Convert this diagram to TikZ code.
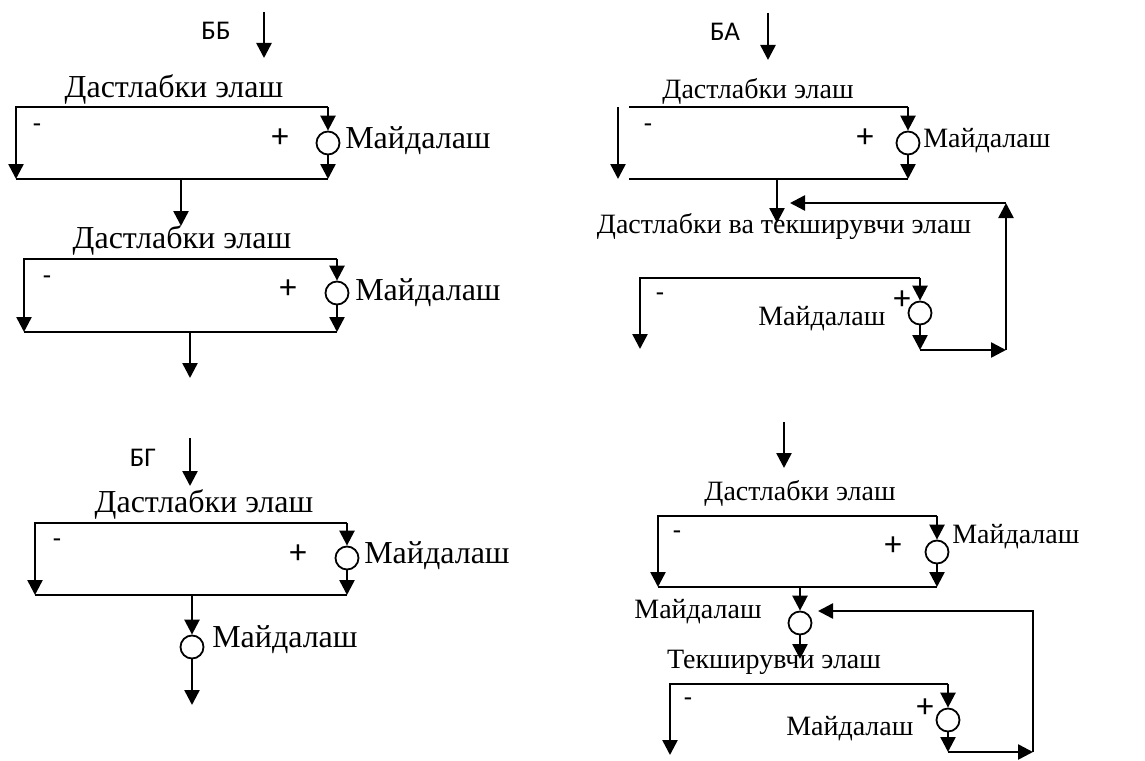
\documentclass[tikz,border=0pt]{standalone}
\usepackage{fontspec}
\setmainfont{Liberation Serif}
\newfontfamily\carlito{Carlito}
\usetikzlibrary{arrows.meta}
\tikzset{sep/.style = {circle,draw,line width=1.8pt,minimum size=23pt,inner sep=0pt,fill=white},
         flow/.style = {-{Triangle[length=15pt,width=15pt]}},
         big/.style = {font=\fontsize{32}{36}\selectfont,inner sep=0pt},
         small/.style = {font=\fontsize{28}{32}\selectfont,inner sep=0pt},
         sans/.style = {font=\carlito\fontsize{27}{30}\selectfont,inner sep=0pt},
         pm/.style = {font=\carlito\fontsize{34}{38}\selectfont,inner sep=0pt}}

\begin{document}
\begin{tikzpicture}[x=1pt,y=-1pt,line width=2.5pt,line join=miter]
                    \useasboundingbox (0,0) rectangle (1145,760);

                    \node [sans] (bb) at (216,31) {ББ};
                    \coordinate (bbin) at (264,12);
                    \coordinate (bbtop) at (264,58);
                    \node [big,anchor=base] (bbt1) at (174,97) {Дастлабки элаш};
                    \coordinate (bbtl1) at (16,107);
                    \coordinate (bbtr1) at (328,107);
                    \coordinate (bbbl1) at (16,179);
                    \coordinate (bbbr1) at (328,179);
                    \node [sep] (bbm1) at (328,143) {};
                    \node [big,anchor=base west] (bbmt1) at (344,148) {Майдалаш};
                    \node [sans] (bbn1) at (37,128) {-};
                    \node [pm] (bbp1) at (280,138) {+};
                    \coordinate (bbo1) at (181,179);
                    \coordinate (bbi2) at (181,226);
                    \node [big,anchor=base] (bbt2) at (182,248) {Дастлабки элаш};
                    \coordinate (bbtl2) at (24,259);
                    \coordinate (bbtr2) at (337,259);
                    \coordinate (bbbl2) at (24,332);
                    \coordinate (bbbr2) at (337,332);
                    \node [sep] (bbm2) at (337,293) {};
                    \node [big,anchor=base west] (bbmt2) at (354,300) {Майдалаш};
                    \node [sans] (bbn2) at (47,280) {-};
                    \node [pm] (bbp2) at (288,289) {+};
                    \coordinate (bbo2) at (190,332);
                    \coordinate (bbe2) at (190,378);

                    \draw [flow] (bbin) to (bbtop);
                    \draw [flow] (bbtr1) -- (bbtl1) -- (bbbl1);
                    \draw [flow] (bbtr1) -- (bbm1);
                    \draw [flow] (bbm1) -- (bbbr1);
                    \draw (bbbl1) -- (bbbr1);
                    \draw [flow] (bbo1) to (bbi2);
                    \draw [flow] (bbtr2) -- (bbtl2) -- (bbbl2);
                    \draw [flow] (bbtr2) -- (bbm2);
                    \draw [flow] (bbm2) -- (bbbr2);
                    \draw (bbbl2) -- (bbbr2);
                    \draw [flow] (bbo2) to (bbe2);

                    \node [sans] (ba) at (725,32) {БА};
                    \coordinate (bain) at (768,13);
                    \coordinate (batop) at (768,60);
                    \node [small,anchor=base] (bat1) at (758,98) {Дастлабки элаш};
                    \coordinate (batl1) at (629,107);
                    \coordinate (batr1) at (908,107);
                    \coordinate (babl1) at (629,179);
                    \coordinate (babr1) at (908,179);
                    \coordinate (bals) at (618,107);
                    \coordinate (bale) at (618,179);
                    \node [sep] (bam1) at (908,143) {};
                    \node [small,anchor=base west] (bamt1) at (922,147) {Майдалаш};
                    \node [sans] (ban1) at (648,128) {-};
                    \node [pm] (bap1) at (865,138) {+};
                    \coordinate (bao1) at (777,179);
                    \coordinate (bai2) at (777,223);
                    \node [small,anchor=base] (bat2) at (784,233) {Дастлабки ва текширувчи элаш};
                    \coordinate (batl2) at (640,278);
                    \coordinate (batr2) at (920,278);
                    \coordinate (babl2) at (640,349);
                    \coordinate (babr2) at (920,350);
                    \node [sep] (bam2) at (920,313) {};
                    \node [small,anchor=base west] (bamt2) at (757,325) {Майдалаш};
                    \node [sans] (ban2) at (660,297) {-};
                    \node [pm] (bap2) at (902,300) {+};
                    \coordinate (bafa) at (1006,350);
                    \coordinate (bafb) at (1006,203);
                    \coordinate (bafc) at (790,203);

                    \draw [flow] (bain) to (batop);
                    \draw (batl1) -- (batr1);
                    \draw [flow] (bals) to (bale);
                    \draw [flow] (batr1) -- (bam1);
                    \draw [flow] (bam1) -- (babr1);
                    \draw (babl1) -- (babr1);
                    \draw [flow] (bao1) to (bai2);
                    \draw [flow] (batr2) -- (batl2) -- (babl2);
                    \draw [flow] (batr2) -- (bam2);
                    \draw [flow] (bam2) -- (babr2);
                    \draw [flow] (babr2) -- (bafa);
                    \draw [flow] (bafa) -- (bafb);
                    \draw [flow] (bafb) -- (bafc);

                    \node [sans] (bg) at (143,458) {БГ};
                    \coordinate (bgin) at (190,438);
                    \coordinate (bgtop) at (190,486);
                    \node [big,anchor=base] (bgt1) at (204,512) {Дастлабки элаш};
                    \coordinate (bgtl) at (35,523);
                    \coordinate (bgtr) at (347,523);
                    \coordinate (bgbl) at (35,595);
                    \coordinate (bgbr) at (347,595);
                    \node [sep] (bgm1) at (347,558) {};
                    \node [big,anchor=base west] (bgmt1) at (363,563) {Майдалаш};
                    \node [sans] (bgn) at (57,543) {-};
                    \node [pm] (bgp) at (298,554) {+};
                    \coordinate (bgo) at (192,595);
                    \node [sep] (bgm2) at (192,647) {};
                    \node [big,anchor=base west] (bgmt2) at (211,647) {Майдалаш};
                    \coordinate (bge) at (192,705);

                    \draw [flow] (bgin) to (bgtop);
                    \draw [flow] (bgtr) -- (bgtl) -- (bgbl);
                    \draw [flow] (bgtr) -- (bgm1);
                    \draw [flow] (bgm1) -- (bgbr);
                    \draw (bgbl) -- (bgbr);
                    \draw [flow] (bgo) -- (bgm2);
                    \draw [flow] (bgm2) -- (bge);

                    \coordinate (krin) at (784,422);
                    \coordinate (krtop) at (784,468);
                    \node [small,anchor=base] (krt1) at (800,500) {Дастлабки элаш};
                    \coordinate (krtl1) at (658,516);
                    \coordinate (krtr1) at (937,516);
                    \coordinate (krbl1) at (658,587);
                    \coordinate (krbr1) at (937,587);
                    \node [sep] (krm1) at (937,552) {};
                    \node [small,anchor=base west] (krmt1) at (951,543) {Майдалаш};
                    \node [sans] (krn1) at (677,535) {-};
                    \node [pm] (krp1) at (893,546) {+};
                    \coordinate (kro1) at (800,587);
                    \node [sep] (krm2) at (800,623) {};
                    \node [small,anchor=base] (krmt2) at (698,618) {Майдалаш};
                    \coordinate (kri2) at (800,659);
                    \node [small,anchor=base] (krt2) at (774,668) {Текширувчи элаш};
                    \coordinate (krtl2) at (670,684);
                    \coordinate (krtr2) at (948,684);
                    \coordinate (krbl2) at (670,755);
                    \coordinate (krbr2) at (948,752);
                    \node [sep] (krm3) at (948,720) {};
                    \node [small,anchor=base west] (krmt3) at (785,735) {Майдалаш};
                    \node [sans] (krn2) at (688,702) {-};
                    \node [pm] (krp2) at (925,708) {+};
                    \coordinate (krfa) at (1033,752);
                    \coordinate (krfb) at (1033,611);
                    \coordinate (krfc) at (818,611);

                    \draw [flow] (krin) to (krtop);
                    \draw [flow] (krtr1) -- (krtl1) -- (krbl1);
                    \draw [flow] (krtr1) -- (krm1);
                    \draw [flow] (krm1) -- (krbr1);
                    \draw (krbl1) -- (krbr1);
                    \draw [flow] (kro1) -- (krm2);
                    \draw [flow] (krm2) -- (kri2);
                    \draw [flow] (krtr2) -- (krtl2) -- (krbl2);
                    \draw [flow] (krtr2) -- (krm3);
                    \draw [flow] (krm3) -- (krbr2);
                    \draw [flow] (krbr2) -- (krfa);
                    \draw [flow] (krfa) -- (krfb) -- (krfc);
                \end{tikzpicture}
\end{document}
